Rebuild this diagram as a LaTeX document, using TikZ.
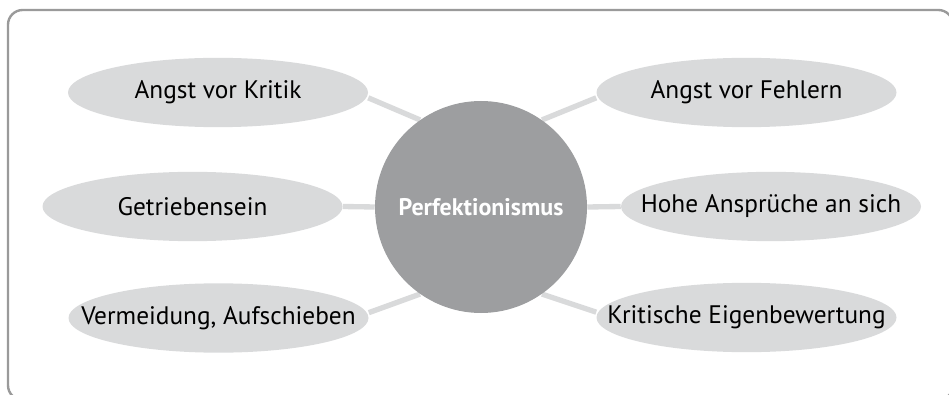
\documentclass[tikz,border=0pt]{standalone}
\usepackage{fontspec}
\setmainfont{PT Sans}
\usetikzlibrary{shapes.geometric,backgrounds}

\definecolor{bubblegray}{HTML}{D9DADB}
\definecolor{coregray}{HTML}{9D9EA0}
\definecolor{framegray}{HTML}{9A9A9A}

\tikzset{
    bubble/.style={ellipse, fill=bubblegray, minimum width=225pt, minimum height=52pt,
        inner xsep=-40pt, inner ysep=0pt, font=\fontsize{19}{22}\selectfont},
    core/.style={circle, fill=coregray, minimum size=159pt, inner sep=0pt,
        text=white, font=\fontsize{18}{21}\selectfont\bfseries},
    link/.style={line width=4pt, color=bubblegray}
}

\begin{document}
\begin{tikzpicture}[x=0.75pt, y=-0.75pt]
    \clip (0,0) rectangle (949,395);

    % Outer frame
    \draw[framegray, line width=1.8pt, rounded corners=11pt] (8,10) rectangle (953,400);

    % Central circle
    \node[core] (perf) at (481,207) {Perfektionismus};

    % Surrounding ellipses
    \node[bubble] (kritik) at (218,92.5) {Angst vor Kritik};
    \node[bubble] (fehler) at (746.5,92.5) {Angst vor Fehlern};
    \node[bubble] (getrieben) at (192.5,206.5) {Getriebensein};
    \node[bubble] (ansprueche) at (771,206.5) {Hohe Ansprüche an sich};
    \node[bubble] (vermeidung) at (218.5,318) {Vermeidung, Aufschieben};
    \node[bubble] (bewertung) at (746.5,317.5) {Kritische Eigenbewertung};

    % Connectors behind the shapes
    \begin{scope}[on background layer]
        \draw[link] ([yshift=-4pt]kritik.east) -- (perf.125);
        \draw[link] ([yshift=-4pt]fehler.west) -- (perf.55);
        \draw[link] (getrieben.east) -- (perf.west);
        \draw[link] (ansprueche.west) -- (perf.east);
        \draw[link] ([yshift=4pt]vermeidung.east) -- (perf.-125);
        \draw[link] ([yshift=4pt]bewertung.west) -- (perf.-55);
    \end{scope}
\end{tikzpicture}
\end{document}
